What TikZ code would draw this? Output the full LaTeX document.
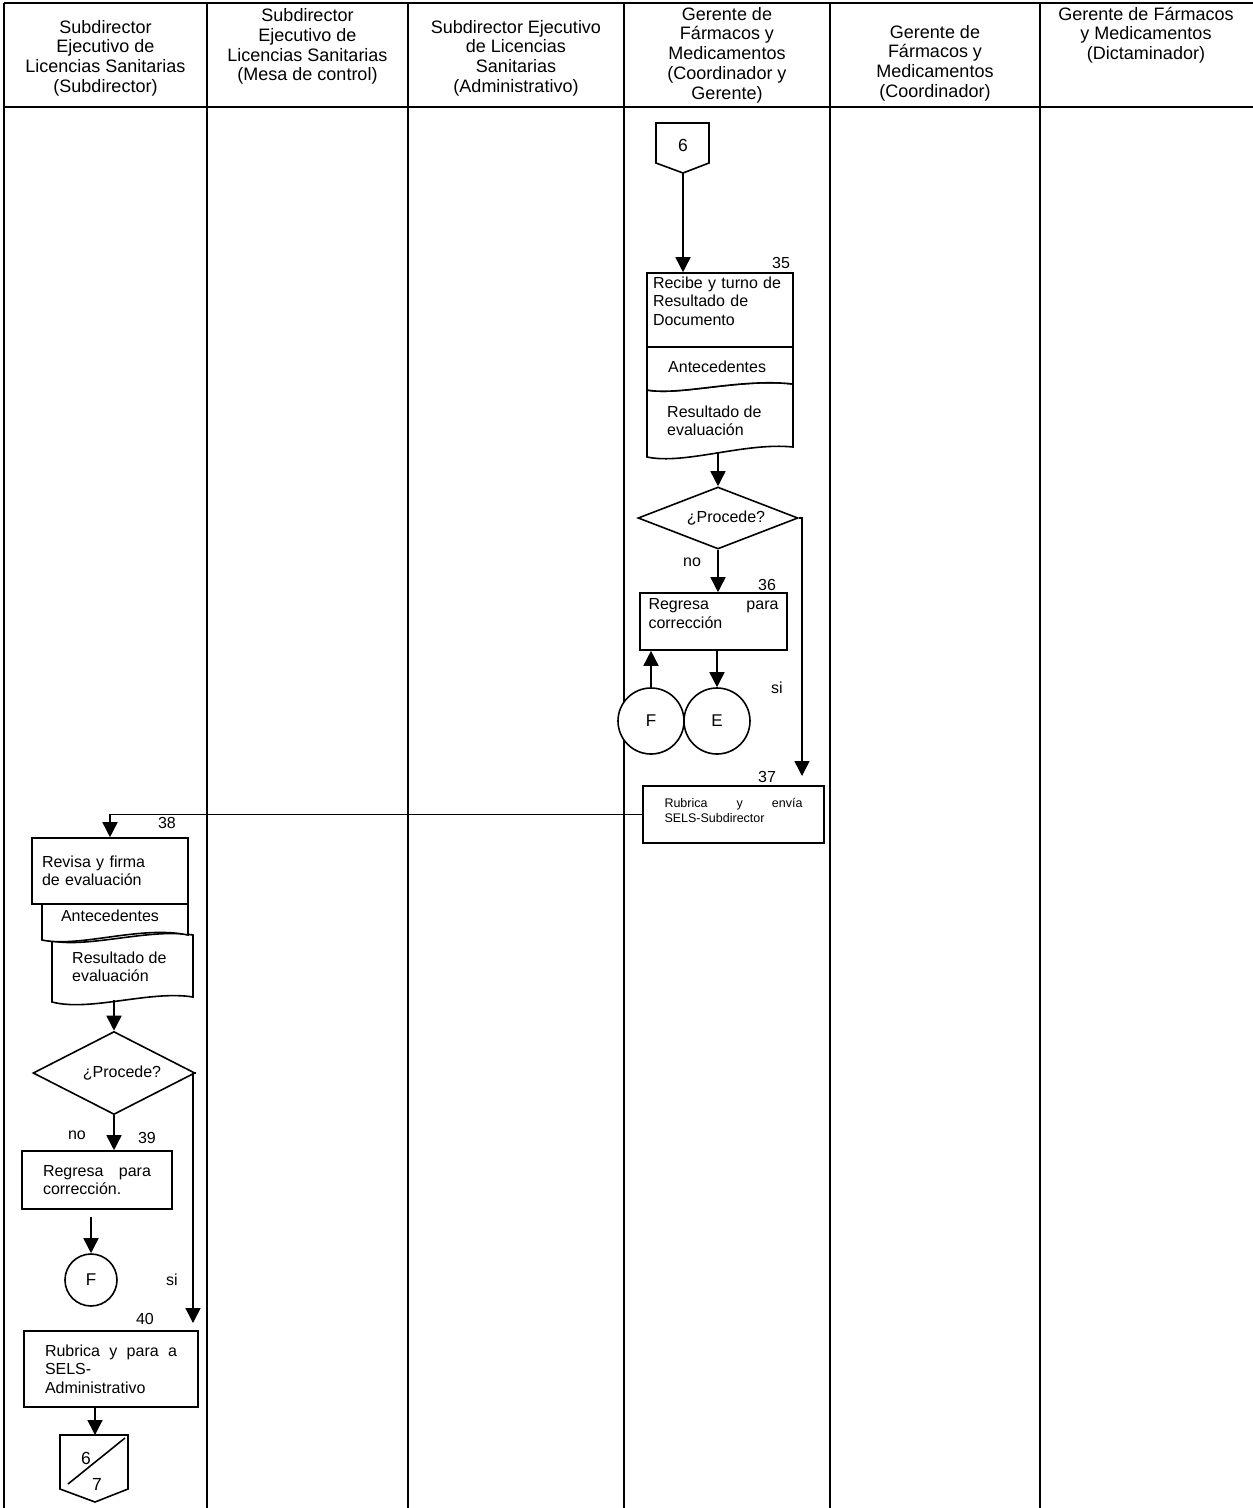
\documentclass[tikz,border=0pt]{standalone}
\usepackage{fontspec}
\setmainfont{Liberation Sans}
\usetikzlibrary{arrows.meta,shapes.geometric}

\begin{document}
\begin{tikzpicture}[x=1pt,y=-1pt,
  lane/.style={line width=2.2pt},
  hdr/.style={font=\fontsize{18}{19.7}\selectfont,align=center},
  txt/.style={font=\fontsize{16}{18}\selectfont,inner sep=0pt},
  num/.style={font=\fontsize{16}{18}\selectfont,inner sep=0pt},
  box/.style={draw,line width=1.6pt,fill=white,font=\fontsize{16}{18.5}\selectfont,inner ysep=0pt},
  doc/.style={draw,line width=1.6pt,fill=white},
  decision/.style={diamond,draw,line width=1.6pt,fill=white,inner sep=0pt,aspect=2.4,font=\fontsize{16}{18}\selectfont},
  conn/.style={circle,draw,line width=1.6pt,fill=white,inner sep=0pt,font=\fontsize{17}{19}\selectfont},
  arr/.style={line width=1.6pt,-{Triangle[width=15pt,length=15pt]}}]
\useasboundingbox (0,0) rectangle (1253,1508);

\draw[lane] (4,3) -- (1253,3);
\draw[lane] (4,107) -- (1253,107);
\foreach \x in {4,207,408,624,830,1040}
  \draw[lane] (\x,3) -- (\x,1508);

\node[hdr] (h1) at (105.5,58) {Subdirector\\Ejecutivo de\\Licencias Sanitarias\\(Subdirector)};
\node[hdr] (h2) at (307.5,46.5) {Subdirector\\Ejecutivo de\\Licencias Sanitarias\\(Mesa de control)};
\node[hdr] (h3) at (516,58) {Subdirector Ejecutivo\\de Licencias\\Sanitarias\\(Administrativo)};
\node[hdr] (h4) at (727,55) {Gerente de\\Fármacos y\\Medicamentos\\(Coordinador y\\Gerente)};
\node[hdr] (h5) at (935,63) {Gerente de\\Fármacos y\\Medicamentos\\(Coordinador)};
\node[hdr] (h6) at (1146,35) {Gerente de Fármacos\\y Medicamentos\\(Dictaminador)};

\draw[doc] (656,123) -- (709,123) -- (709,163) -- (683,173) -- (656,163) -- cycle;
\node[txt,font=\fontsize{17.5}{19}\selectfont] (p6) at (683,145) {6};
\coordinate (p6tip) at (683,173);

\node[num] (n35) at (781,263) {35};
\draw[doc] (647,390) .. controls (680,396) and (740,378) .. (793,384) -- (793,447)
  .. controls (745,442) and (685,465) .. (647,457) -- cycle;
\draw[doc] (647,340) -- (793,340) -- (793,384) .. controls (740,378) and (680,396) .. (647,390) -- cycle;
\node[box,align=left,text width=134pt,inner xsep=6pt,minimum height=74pt] (b35) at (720,310) {Recibe y turno de\\Resultado de\\Documento\rule[-18pt]{0pt}{18pt}};
\node[txt,anchor=west] (a35) at (668,367) {Antecedentes};
\node[txt,anchor=west,align=left] (r35) at (667,421) {Resultado de\\evaluación};
\coordinate (r35bot) at (718,453);

\node[decision,minimum width=160pt,minimum height=62pt] (d1) at (718,518) {\hspace*{16pt}¿Procede?};
\node[txt] (no1) at (692,562) {no};
\node[num] (n36) at (767,585) {36};
\node[box,align=justify,text width=130pt,inner xsep=8.5pt,minimum height=57pt] (b36) at (713.5,621.5) {Regresa para\linebreak corrección\rule[-16pt]{0pt}{16pt}};
\node[conn,minimum size=66pt] (f1) at (651,721) {F};
\node[conn,minimum size=66pt] (e1) at (717,721) {E};
\node[txt] (si1l) at (777,688) {si};
\coordinate (si1) at (802,776);

\node[num] (n37) at (767,777) {37};
\node[box,font=\fontsize{12.5}{15}\selectfont,align=justify,text width=138pt,inner xsep=21.5pt,minimum height=57pt] (b37) at (733.5,814.5) {Rubrica y envía\linebreak SELS-Subdirector\rule[-9pt]{0pt}{9pt}};

\node[num] (n38) at (167,823) {38};
\draw[doc] (52,941) .. controls (90,948) and (150,928) .. (193,935) -- (193,997)
  .. controls (150,990) and (90,1012) .. (52,1002) -- cycle;
\draw[doc] (42,895) -- (188,895) -- (188,935) .. controls (140,925) and (80,948) .. (42,940) -- cycle;
\node[box,align=left,text width=136pt,inner xsep=10pt,minimum height=66pt] (b38) at (110,871) {Revisa y firma\\de evaluación};
\node[txt] (a38) at (110,916) {Antecedentes};
\node[txt,anchor=west,align=left] (r38) at (72,967) {Resultado de\\evaluación};
\coordinate (r38bot) at (114,1000);

\node[decision,minimum width=162pt,minimum height=83pt,aspect=2] (d2) at (114,1073) {\hspace*{16pt}¿Procede?};
\node[txt] (no2) at (77,1135) {no};
\node[num] (n39) at (147,1138) {39};
\node[box,align=justify,text width=108pt,inner xsep=21pt,minimum height=58pt] (b39) at (97,1180) {Regresa para\linebreak corrección.};
\node[conn,minimum size=52pt] (f2) at (91,1280) {F};
\node[txt] (si2l) at (172,1280) {si};
\coordinate (si2) at (193,1323);

\node[num] (n40) at (145,1319) {40};
\node[box,align=justify,text width=132pt,inner xsep=21pt,minimum height=76pt] (b40) at (111,1369) {Rubrica y para a\linebreak SELS-\\Administrativo};

\draw[doc] (60,1435) -- (128,1435) -- (128,1489) -- (95,1502) -- (60,1489) -- cycle;
\draw[line width=1.6pt] (68,1484) -- (125,1438);
\node[txt,font=\fontsize{17.5}{19}\selectfont] (p7a) at (86,1458) {6};
\node[txt,font=\fontsize{17.5}{19}\selectfont] (p7b) at (97,1484) {7};
\coordinate (p7top) at (95,1435);

\draw[arr] (p6tip) -- (p6tip |- b35.north);
\draw[arr] (r35bot) -- (d1.north);
\draw[arr] (d1.south) -- (d1.south |- b36.north);
\draw[arr] (b36.south -| e1) -- (e1.north);
\draw[arr] (f1.north) -- (f1.north |- b36.south);
\draw[arr] (d1.east) -- (d1.east -| si1) -- (si1);
\draw[arr] (b37.west) -| (b38.north);
\draw[arr] (r38bot) -- (d2.north);
\draw[arr] (d2.south) -- (d2.south |- b39.north);
\draw[arr] ([yshift=-7pt]b39.south -| f2) -- (f2.north);
\draw[arr] (d2.east) -- (d2.east -| si2) -- (si2);
\draw[arr] (b40.south -| p7top) -- (p7top);
\end{tikzpicture}
\end{document}
